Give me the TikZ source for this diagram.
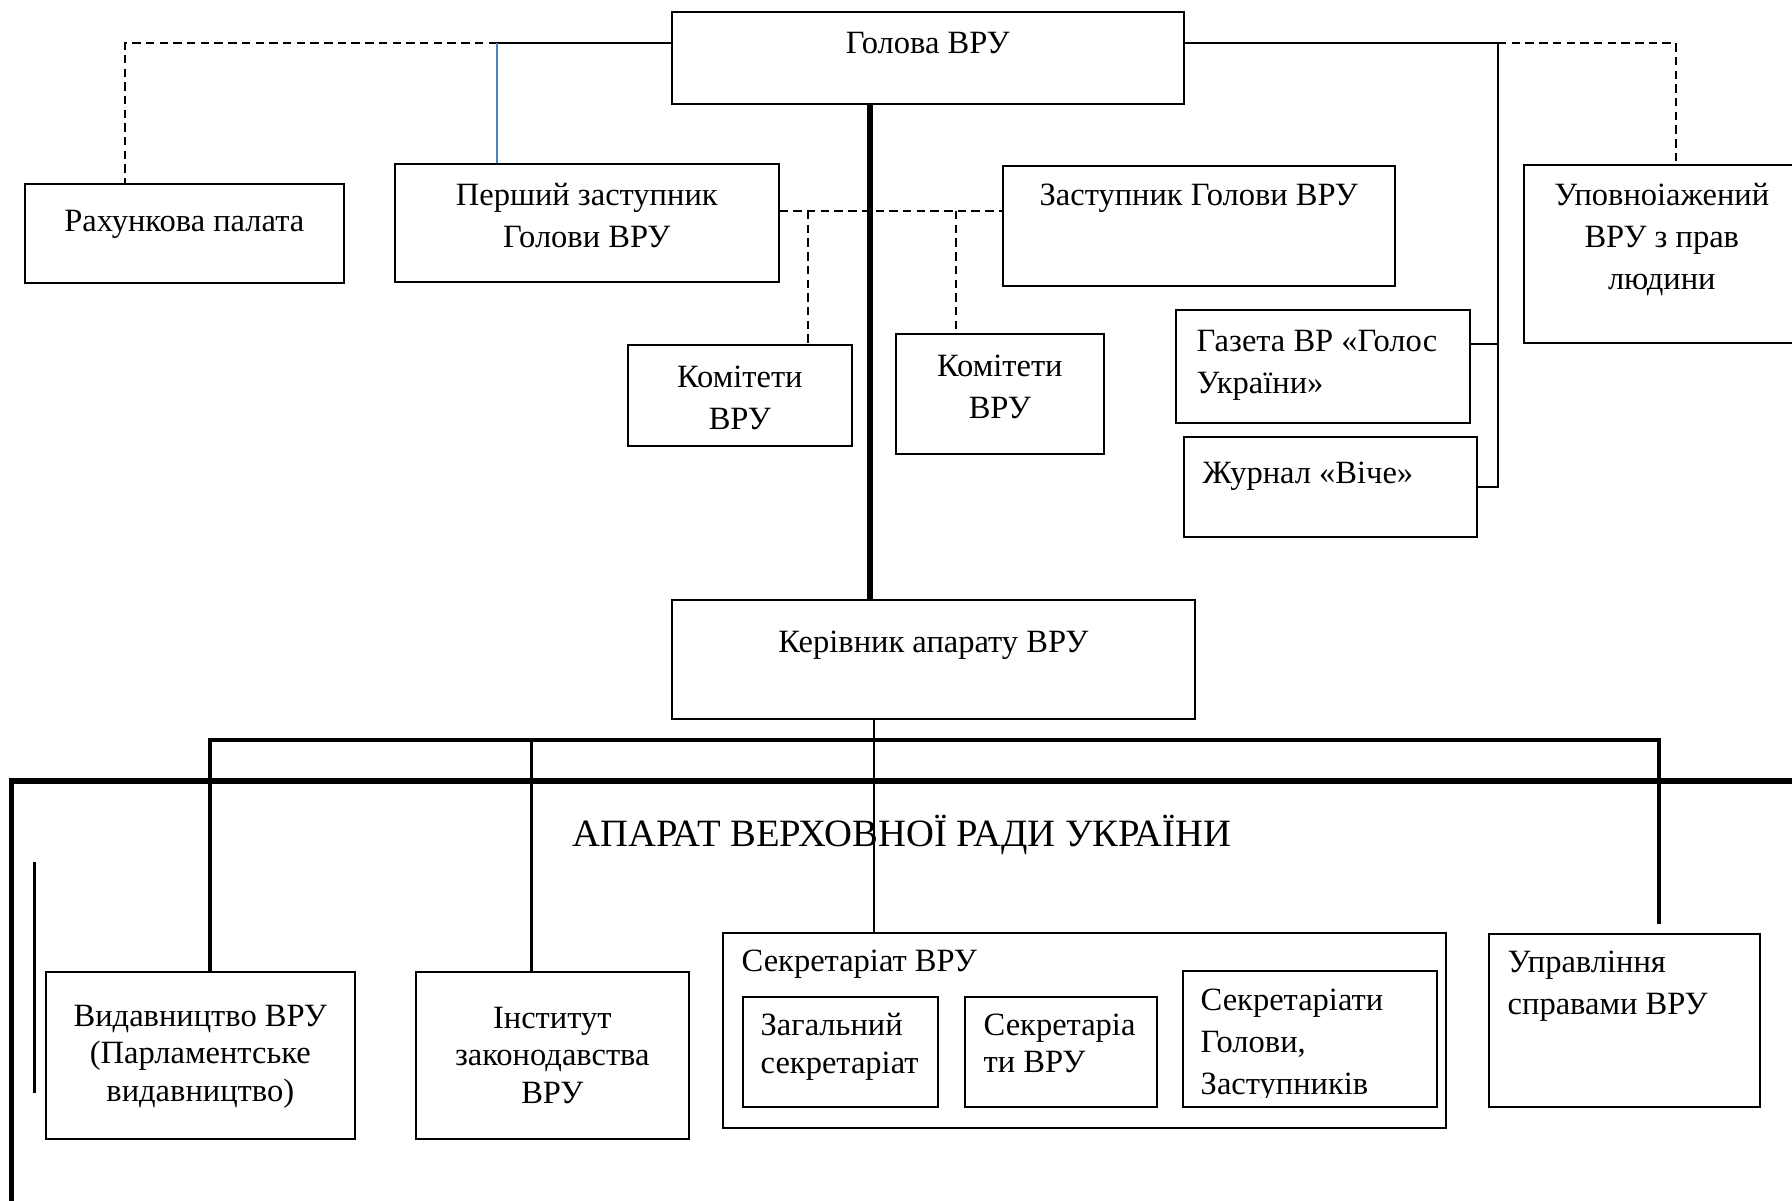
\documentclass[tikz,border=0pt]{standalone}
\usepackage{fontspec}
\setmainfont{Liberation Serif}
\usepackage{tikz}
\usetikzlibrary{positioning}
\definecolor{linkblue}{RGB}{79,129,189}
\newcommand{\boxfont}{\fontsize{9.25pt}{11.95pt}\selectfont}
\newcommand{\boxfontt}{\fontsize{9.25pt}{10.67pt}\selectfont}
\newcommand{\titlefont}{\fontsize{11pt}{13pt}\selectfont}

\tikzset{
	box/.style={draw, line width=0.45pt, anchor=north west, inner sep=0pt},
	txt/.style={inner sep=0pt, align=center, font=\boxfont},
	ltxt/.style={inner sep=0pt, align=left, font=\boxfont},
	conn/.style={line width=0.45pt},
	dconn/.style={line width=0.45pt, dash pattern=on 2.4pt off 1.5pt},
	heavy/.style={line width=1.6pt},
	drop/.style={line width=0.9pt}
}

\begin{document}
\begin{tikzpicture}
	\useasboundingbox (0,0) rectangle (17.92,-12);

	% top row
	\node[box, minimum width=5.12cm, minimum height=0.92cm] (golova) at (6.71,-0.11) {};
	\node[txt, below=0.20cm of golova.north] (golova-t) {Голова ВРУ};

	\node[box, minimum width=3.19cm, minimum height=0.99cm] (rahunk) at (0.24,-1.83) {};
	\node[txt, below=0.26cm of rahunk.north] (rahunk-t) {Рахункова палата};

	\node[box, minimum width=3.84cm, minimum height=1.18cm] (pershyi) at (3.94,-1.63) {};
	\node[txt, below=0.20cm of pershyi.north] (pershyi-t) {Перший заступник\\Голови ВРУ};

	\node[box, minimum width=3.92cm, minimum height=1.20cm] (zast) at (10.02,-1.65) {};
	\node[txt, below=0.18cm of zast.north] (zast-t) {Заступник Голови ВРУ};

	\node[box, minimum width=2.76cm, minimum height=1.78cm] (upovn) at (15.23,-1.64) {};
	\node[txt, below=0.19cm of upovn.north] (upovn-t) {Уповноіажений\\ВРУ з прав\\людини};

	\node[box, minimum width=2.24cm, minimum height=1.01cm] (komit1) at (6.27,-3.44) {};
	\node[txt, below=0.21cm of komit1.north] (komit1-t) {Комітети\\ВРУ};

	\node[box, minimum width=2.08cm, minimum height=1.20cm] (komit2) at (8.95,-3.33) {};
	\node[txt, below=0.21cm of komit2.north] (komit2-t) {Комітети\\ВРУ};

	\node[box, minimum width=2.94cm, minimum height=1.13cm] (gazeta) at (11.75,-3.09) {};
	\node[ltxt, below right=0.20cm and 0.21cm of gazeta.north west] (gazeta-t) {Газета ВР «Голос\\України»};

	\node[box, minimum width=2.93cm, minimum height=1.00cm] (zhurnal) at (11.83,-4.36) {};
	\node[ltxt, below right=0.255cm and 0.19cm of zhurnal.north west] (zhurnal-t) {Журнал «Віче»};

	\node[box, minimum width=5.23cm, minimum height=1.19cm] (keriv) at (6.71,-5.99) {};
	\node[txt, below=0.31cm of keriv.north] (keriv-t) {Керівник апарату ВРУ};

	% apparatus
	\node[font=\titlefont, inner sep=0pt, anchor=base] (aparat) at (9.02,-8.467) {АПАРАТ ВЕРХОВНОЇ РАДИ УКРАЇНИ};

	\node[box, minimum width=3.09cm, minimum height=1.67cm] (vydav) at (0.45,-9.71) {};
	\node[txt, font=\boxfontt, below=0.33cm of vydav.north] (vydav-t) {Видавництво ВРУ\\(Парламентське\\видавництво)};

	\node[box, minimum width=2.73cm, minimum height=1.67cm] (instytut) at (4.15,-9.71) {};
	\node[txt, font=\boxfontt, below=0.35cm of instytut.north] (instytut-t) {Інститут\\законодавства\\ВРУ};

	\node[box, minimum width=7.23cm, minimum height=1.95cm] (sekr) at (7.22,-9.32) {};
	\node[ltxt, below right=0.17cm and 0.19cm of sekr.north west] (sekr-t) {Секретаріат ВРУ};

	\node[box, minimum width=1.95cm, minimum height=1.10cm] (zagal) at (7.42,-9.96) {};
	\node[ltxt, font=\boxfontt, below right=0.17cm and 0.18cm of zagal.north west] (zagal-t) {Загальний\\секретаріат};

	\node[box, minimum width=1.92cm, minimum height=1.10cm] (sekrvru) at (9.64,-9.96) {};
	\node[ltxt, font=\boxfontt, below right=0.17cm and 0.19cm of sekrvru.north west] (sekrvru-t) {Секретаріа\\ти ВРУ};

	\node[box, minimum width=2.54cm, minimum height=1.36cm] (sekrgol) at (11.82,-9.70) {};
	\begin{scope}
		\clip (sekrgol.north west) rectangle ([yshift=0.1cm]sekrgol.south east);
		\node[ltxt, below right=0.18cm and 0.18cm of sekrgol.north west] (sekrgol-t) {Секретаріати\\Голови,\\Заступників};
	\end{scope}

	\node[box, minimum width=2.71cm, minimum height=1.73cm] (uprav) at (14.88,-9.33) {};
	\node[ltxt, below right=0.17cm and 0.19cm of uprav.north west] (uprav-t) {Управління\\справами ВРУ};

	% links from the head
	\coordinate (lt) at (4.97,-0.43);
	\coordinate (ltd) at (1.25,-0.43);
	\draw[conn] (lt) -- (lt -| golova.west);
	\draw[dconn] (lt) -- (ltd) -- (ltd |- rahunk.north);
	\draw[conn, linkblue] (lt) -- (lt |- pershyi.north);

	\coordinate (rt) at (14.98,-0.43);
	\coordinate (rtd) at (16.76,-0.43);
	\coordinate (gz) at (14.98,-3.44);
	\draw[conn] (rt -| golova.east) -- (rt) |- (zhurnal.east);
	\draw[conn] (gz) -- (gz -| gazeta.east);
	\draw[dconn] (rt) -- (rtd) -- (rtd |- upovn.north);

	\coordinate (md) at (8.08,-2.11);
	\coordinate (md2) at (9.56,-2.11);
	\draw[dconn] (md -| pershyi.east) -- (md -| zast.west);
	\draw[dconn] (md) -- (md |- komit1.north);
	\draw[dconn] (md2) -- (md2 |- komit2.north);

	\coordinate (stem) at (8.70,0);
	\draw[heavy] (stem |- golova.south) -- (stem |- keriv.north);

	% links from the chief of staff
	\coordinate (kstem) at (8.74,0);
	\draw[line width=0.6pt] (kstem |- keriv.south) -- (kstem |- sekr.north);

	\coordinate (b1) at (2.10,-7.40);
	\coordinate (b2) at (5.315,-7.40);
	\coordinate (b4) at (16.59,-7.40);
	\coordinate (b4e) at (16.59,-9.24);
	\draw[drop] (b1 |- vydav.north) -- (b1) -- (b4) -- (b4e);
	\draw[drop] (b2) -- (b2 |- instytut.north);

	% frame
	\draw[heavy] (0.115,-12.2) -- (0.115,-7.81) -- (18.2,-7.81);
	\draw[line width=1.1pt] (0.345,-8.62) -- (0.345,-10.93);
\end{tikzpicture}
\end{document}
